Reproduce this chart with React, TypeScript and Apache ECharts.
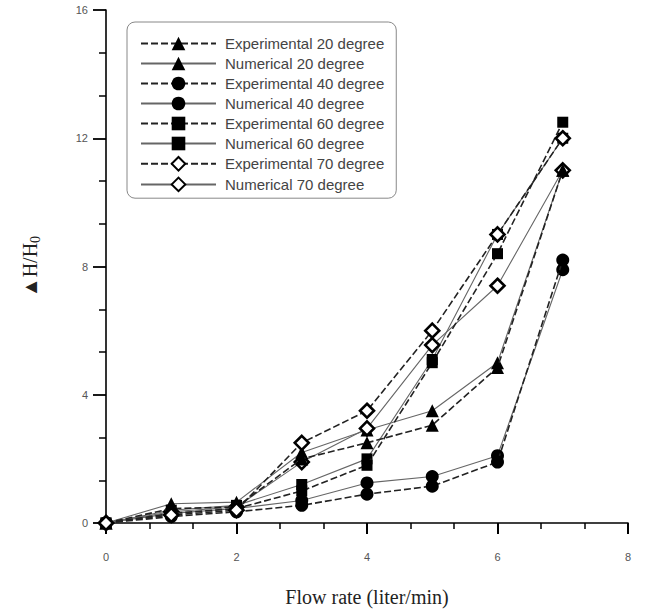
import React, { useEffect, useRef } from "react";
import * as echarts from "echarts";

// Flow rate (liter/min)
const flowRate = [0, 1, 2, 3, 4, 5, 6, 7];

// ΔH/H0 per inclination angle
const exp20 = [0, 0.45, 0.5, 2.0, 2.5, 3.05, 4.85, 11.0];
const num20 = [0, 0.6, 0.65, 2.2, 2.9, 3.5, 5.0, 11.0];
const exp40 = [0, 0.2, 0.35, 0.55, 0.9, 1.15, 1.9, 8.2];
const num40 = [0, 0.3, 0.45, 0.7, 1.25, 1.45, 2.1, 7.9];
const exp60 = [0, 0.3, 0.45, 1.0, 1.8, 5.0, 8.4, 12.5];
const num60 = [0, 0.4, 0.55, 1.2, 2.0, 5.1, 9.0, 12.0];
const exp70 = [0, 0.25, 0.4, 2.5, 3.5, 6.0, 9.0, 12.0];
const num70 = [0, 0.35, 0.5, 1.9, 2.95, 5.55, 7.4, 11.0];

const seriesNames = [
  "Experimental 20 degree",
  "Numerical 20 degree",
  "Experimental 40 degree",
  "Numerical 40 degree",
  "Experimental 60 degree",
  "Numerical 60 degree",
  "Experimental 70 degree",
  "Numerical 70 degree",
];

type Marker = "triangle" | "circle" | "rect" | "diamond";

function makeSeries(name: string, values: number[], marker: Marker, dashed: boolean) {
  const open = marker === "diamond";
  const size = marker === "rect" ? 11 : marker === "diamond" ? 14 : 13;
  return {
    name,
    type: "line",
    data: flowRate.map((x, i) => [x, values[i]]),
    symbol: marker,
    symbolSize: size,
    lineStyle: dashed
      ? { color: "#222", width: 1.6, type: [7, 3] }
      : { color: "#666", width: 1.1, type: "solid" },
    itemStyle: open
      ? { color: "#fff", borderColor: "#000", borderWidth: 2.6 }
      : { color: "#000", borderColor: "#000", borderWidth: 0 },
    z: dashed ? 3 : 2,
  };
}

export default function App() {
  const ref = useRef<HTMLDivElement>(null);

  useEffect(() => {
    if (!ref.current) return;
    const chart = echarts.init(ref.current, undefined, { renderer: "svg" });
    const labelFont = "Liberation Sans, Arial, sans-serif";
    const serif = "Liberation Serif, Times New Roman, serif";

    chart.setOption({
      animation: false,
      backgroundColor: "#fff",
      grid: { left: 106, right: 22, top: 10, bottom: 92 },
      legend: {
        orient: "vertical",
        left: 127,
        top: 22,
        padding: [14, 12, 6, 13],
        itemWidth: 75,
        itemHeight: 17,
        itemGap: 5,
        borderColor: "#888",
        borderWidth: 1,
        borderRadius: 8,
        backgroundColor: "#fff",
        textStyle: { fontFamily: labelFont, fontSize: 15, color: "#444", padding: [0, 0, 0, 4] },
        data: seriesNames,
      },
      xAxis: {
        type: "value",
        min: 0,
        max: 8,
        interval: 2,
        name: "Flow rate (liter/min)",
        nameLocation: "middle",
        nameGap: 64,
        nameTextStyle: { fontFamily: serif, fontSize: 20, color: "#222" },
        axisLine: { show: true, onZero: false, lineStyle: { color: "#000", width: 1.6 } },
        axisTick: { show: true, inside: false, length: 11, lineStyle: { color: "#000", width: 2 } },
        minorTick: { show: true, splitNumber: 3, length: 6, lineStyle: { color: "#000", width: 1.5 } },
        axisLabel: { show: true, margin: 28, fontFamily: labelFont, fontSize: 11, color: "#555" },
        splitLine: { show: false },
      },
      yAxis: {
        type: "value",
        min: 0,
        max: 16,
        interval: 4,
        name: "{m|▲H/H}{s|0}",
        nameLocation: "middle",
        nameRotate: 90,
        nameGap: 64,
        nameTextStyle: {
          rich: {
            m: { fontFamily: serif, fontSize: 20, color: "#222", lineHeight: 24 },
            s: { fontFamily: serif, fontSize: 14, color: "#222", lineHeight: 24, padding: [10, 0, 0, 0] },
          },
        },
        axisLine: { show: true, onZero: false, lineStyle: { color: "#000", width: 1.6 } },
        axisTick: { show: true, inside: false, length: 13, lineStyle: { color: "#000", width: 1.8 } },
        minorTick: { show: true, splitNumber: 3, length: 7, lineStyle: { color: "#000", width: 1.5 } },
        axisLabel: { show: true, margin: 18, fontFamily: labelFont, fontSize: 11, color: "#555" },
        splitLine: { show: false },
      },
      series: [
        makeSeries(seriesNames[0], exp20, "triangle", true),
        makeSeries(seriesNames[1], num20, "triangle", false),
        makeSeries(seriesNames[2], exp40, "circle", true),
        makeSeries(seriesNames[3], num40, "circle", false),
        makeSeries(seriesNames[4], exp60, "rect", true),
        makeSeries(seriesNames[5], num60, "rect", false),
        makeSeries(seriesNames[6], exp70, "diamond", true),
        makeSeries(seriesNames[7], num70, "diamond", false),
      ],
    });

    return () => chart.dispose();
  }, []);

  return <div ref={ref} style={{ width: 650, height: 615, position: "absolute", left: 0, top: 0 }} />;
}
